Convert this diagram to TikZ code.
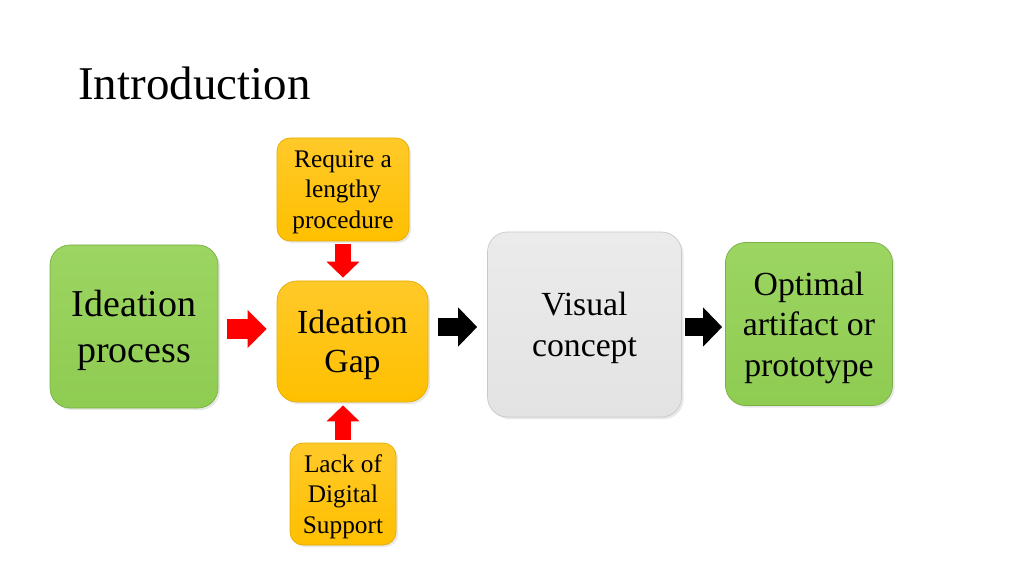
\documentclass[tikz,border=0pt]{standalone}
\usepackage{fontspec}
\setmainfont{Liberation Serif}
\usetikzlibrary{arrows.meta, shadows}

\newlength\pxu
\setlength\pxu{0.025cm}

\definecolor{grnbase}{HTML}{8FCC52}
\definecolor{grntop}{HTML}{9CD562}
\definecolor{grnedge}{HTML}{7BAF45}
\definecolor{ylwbase}{HTML}{FFC000}
\definecolor{ylwtop}{HTML}{FFC929}
\definecolor{ylwedge}{HTML}{E5AC00}
\definecolor{grybase}{HTML}{E3E3E3}
\definecolor{grytop}{HTML}{EBEBEB}
\definecolor{gryedge}{HTML}{C9C9C9}
\definecolor{arrred}{HTML}{FF0000}

\begin{document}
\begin{tikzpicture}[
  x=\pxu, y=-\pxu,
  box/.style     = {draw=#1edge, top color=#1top, bottom color=#1base,
                    line width=0.5pt, rounded corners=20\pxu, align=center,
                    inner sep=0pt, text depth=-4pt,
                    drop shadow={opacity=0.18, shadow xshift=1.5pt, shadow yshift=-1.5pt}},
  smallbox/.style = {box=#1, rounded corners=13\pxu},
  redarrow/.style   = {draw=arrred, line width=0.475cm,
                       -{Triangle[length=0.475cm, width=0.925cm]}},
  redarrowv/.style  = {draw=arrred, line width=0.4cm,
                       -{Triangle[length=0.4cm, width=0.8cm]}},
  blkarrow/.style   = {draw=black, line width=0.425cm,
                       -{Triangle[length=0.475cm, width=0.95cm]}}
]
\useasboundingbox (0,0) rectangle (1024,576);

% ── Title ─────────────────────────────────────────────────────────────────────
\node[anchor=base west, inner sep=0pt, font=\fontsize{33.4}{40}\selectfont]
  (title) at (78,100) {Introduction};

% ── Nodes ─────────────────────────────────────────────────────────────────────
\node[box=grn, minimum width=168\pxu, minimum height=163\pxu,
      font=\fontsize{27}{32.7}\selectfont] (process) at (134,326.5) {Ideation\\process};
\node[box=ylw, minimum width=151\pxu, minimum height=121\pxu,
      font=\fontsize{24}{27.7}\selectfont] (gap) at (352.5,341.5) {Ideation\\Gap};
\node[smallbox=ylw, minimum width=132\pxu, minimum height=103\pxu,
      font=\fontsize{18}{21.7}\selectfont] (require) at (343,189.5) {Require a\\lengthy\\procedure};
\node[smallbox=ylw, minimum width=106\pxu, minimum height=102\pxu,
      font=\fontsize{18}{21.7}\selectfont] (lack) at (343,494) {Lack of\\Digital\\Support};
\node[box=gry, minimum width=194\pxu, minimum height=185\pxu,
      font=\fontsize{24}{29}\selectfont] (visual) at (584.5,324.5) {Visual\\concept};
\node[box=grn, minimum width=167\pxu, minimum height=163\pxu,
      font=\fontsize{24}{28.8}\selectfont] (optimal) at (809,324) {Optimal\\artifact or\\prototype};

% ── Arrows ────────────────────────────────────────────────────────────────────
\draw[redarrow, shorten <=0.225cm, shorten >=0.25cm]
  ([yshift=-0.0625cm]process.east) -- ([yshift=-0.0625cm]process.east -| gap.west);
\draw[redarrowv, shorten <=0.075cm, shorten >=0.075cm]
  (require.south) -- (require.south |- gap.north);
\draw[redarrowv, shorten <=0.075cm, shorten >=0.075cm]
  (lack.north) -- (lack.north |- gap.south);
\draw[blkarrow, shorten <=0.25cm, shorten >=0.25cm]
  ([yshift=-0.0625cm]visual.west -| gap.east) -- ([yshift=-0.0625cm]visual.west);
\draw[blkarrow, shorten <=0.075cm, shorten >=0.075cm]
  ([yshift=-0.0625cm]visual.east) -- ([yshift=-0.0625cm]visual.east -| optimal.west);

\end{tikzpicture}
\end{document}
